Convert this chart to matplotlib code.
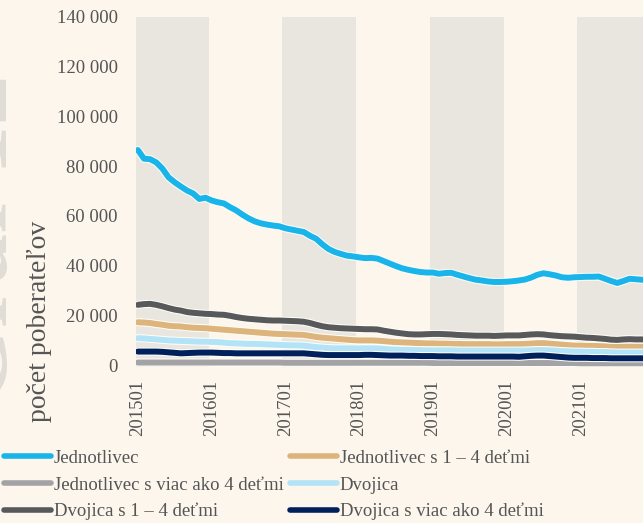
import numpy as np
import matplotlib.pyplot as plt
import matplotlib.patheffects as pe
from matplotlib.ticker import FuncFormatter

plt.rcParams['font.family'] = ['Liberation Serif', 'DejaVu Serif']

# monthly data, 201501 .. 202112
jednotlivec = [
    86500, 83000, 82800, 81500, 79000, 75500, 73500, 71800, 70200, 69000, 66800, 67300,
    66200, 65500, 65000, 63500, 62200, 60500, 59000, 57800, 57000, 56500, 56100, 55800,
    55000, 54500, 54000, 53500, 52000, 50800, 48600, 46700, 45500, 44700, 44000, 43700,
    43300, 43000, 43100, 42800, 41800, 40800, 39800, 38900, 38300, 37800, 37400, 37200,
    37200, 36700, 37000, 37100, 36300, 35600, 34900, 34300, 34000, 33600, 33400, 33400,
    33500, 33700, 34000, 34400, 35200, 36300, 36900, 36500, 36000, 35300, 35100, 35300,
    35400, 35500, 35500, 35600, 34700, 33800, 33000, 33800, 34700, 34500, 34300, 34300]
jedn_1_4 = [
    17200, 17100, 16900, 16500, 16200, 15800, 15600, 15500, 15200, 15000, 14900, 14800,
    14600, 14400, 14200, 14000, 13800, 13600, 13400, 13200, 13000, 12800, 12600, 12500,
    12400, 12300, 12200, 12100, 11700, 11300, 11000, 10800, 10600, 10400, 10200, 10000,
    9900, 9900, 9900, 9800, 9600, 9400, 9200, 9100, 9000, 8900, 8800, 8700,
    8700, 8600, 8600, 8500, 8500, 8400, 8400, 8400, 8400, 8400, 8300, 8300,
    8400, 8400, 8400, 8500, 8600, 8800, 8800, 8600, 8400, 8200, 8000, 7800,
    7800, 7700, 7700, 7600, 7500, 7400, 7300, 7400, 7400, 7400, 7400, 7400]
jedn_viac4 = [
    1000, 1000, 1000, 1000, 1000, 1000, 1000, 1000, 1000, 1000, 1000, 1000,
    1000, 1000, 1000, 1000, 1000, 1000, 1000, 1000, 1000, 1000, 1000, 1000,
    900, 900, 900, 900, 900, 900, 900, 900, 900, 900, 900, 900,
    900, 900, 900, 900, 900, 900, 900, 900, 900, 900, 900, 900,
    800, 800, 800, 800, 800, 800, 800, 800, 800, 800, 800, 800,
    800, 800, 800, 800, 800, 800, 800, 800, 800, 800, 800, 800,
    700, 700, 700, 700, 700, 700, 700, 700, 700, 700, 700, 700]
dvojica = [
    10800, 10700, 10500, 10300, 10100, 9900, 9800, 9700, 9600, 9500, 9400, 9400,
    9300, 9200, 9000, 8800, 8700, 8600, 8500, 8500, 8400, 8300, 8200, 8100,
    8000, 7900, 7900, 7800, 7500, 7200, 7000, 6800, 6700, 6700, 6700, 6700,
    6700, 6700, 6700, 6700, 6500, 6300, 6200, 6100, 6100, 6000, 6000, 5900,
    5900, 5900, 5900, 5900, 5800, 5800, 5800, 5800, 5800, 5800, 5800, 5800,
    5800, 5800, 5800, 5800, 5900, 6000, 6000, 5900, 5800, 5600, 5500, 5400,
    5400, 5300, 5300, 5200, 5200, 5100, 5000, 5000, 5000, 5000, 5000, 5000]
dvoj_1_4 = [
    24200, 24500, 24600, 24200, 23600, 22900, 22300, 21900, 21300, 21000, 20800, 20600,
    20500, 20300, 20200, 19800, 19300, 18900, 18600, 18400, 18200, 18000, 17900, 17900,
    17800, 17700, 17600, 17400, 16900, 16200, 15600, 15200, 15000, 14800, 14700, 14600,
    14500, 14400, 14400, 14300, 13800, 13400, 13000, 12700, 12400, 12300, 12300, 12400,
    12500, 12500, 12400, 12300, 12100, 12000, 11900, 11800, 11800, 11800, 11700, 11800,
    11900, 11900, 11900, 12100, 12300, 12400, 12300, 12000, 11800, 11600, 11500, 11400,
    11200, 11000, 10900, 10700, 10500, 10200, 10100, 10300, 10400, 10300, 10300, 10200]
dvoj_viac4 = [
    5400, 5400, 5400, 5400, 5300, 5100, 4900, 4700, 4800, 4900, 5000, 5000,
    5000, 4900, 4800, 4800, 4700, 4700, 4700, 4700, 4700, 4700, 4700, 4700,
    4700, 4700, 4700, 4700, 4500, 4300, 4100, 4000, 4000, 4000, 4000, 4000,
    4000, 4100, 4100, 4000, 3900, 3800, 3800, 3800, 3700, 3700, 3600, 3600,
    3600, 3500, 3500, 3500, 3400, 3400, 3400, 3400, 3400, 3400, 3400, 3400,
    3400, 3400, 3300, 3500, 3700, 3800, 3800, 3600, 3400, 3200, 3000, 2900,
    2900, 2900, 2800, 2800, 2800, 2700, 2700, 2700, 2700, 2700, 2700, 2700]

years = [2015, 2016, 2017, 2018, 2019, 2020, 2021]
tick_labels = [f"{y}01" for y in years]

series = [
    ("Jednotlivec", jednotlivec, '#19b5ea'),
    ("Jednotlivec s 1 – 4 deťmi", jedn_1_4, '#dcb47c'),
    ("Jednotlivec s viac ako 4 deťmi", jedn_viac4, '#a3a3a5'),
    ("Dvojica", dvojica, '#b2e3f6'),
    ("Dvojica s 1 – 4 deťmi", dvoj_1_4, '#58595b'),
    ("Dvojica s viac ako 4 deťmi", dvoj_viac4, '#00205c'),
]

bg = '#fcf6ec'
band = '#e9e5df'
txt = '#555555'

fig = plt.figure(figsize=(6.43, 5.23), dpi=100, facecolor=bg)
ax = fig.add_axes([136 / 643, 156 / 523, 555 / 643, 350 / 523])
ax.set_facecolor(bg)

for i in range(0, 8, 2):
    ax.axvspan(i * 12 - 0.5, i * 12 + 11.5, color=band, lw=0, zorder=0)

months = np.arange(len(jednotlivec))
handles = {}
for name, vals, col in series:
    ln, = ax.plot(months, vals, color=col, lw=4.3, solid_capstyle='round',
                  solid_joinstyle='round', zorder=3,
                  path_effects=[pe.Stroke(linewidth=5.8, foreground='#fffdf8'), pe.Normal()])
    handles[name] = ln

ax.set_xlim(-0.3, 90)
ax.set_ylim(-800, 140000)
ax.set_yticks(np.arange(0, 140001, 20000))
ax.yaxis.set_major_formatter(FuncFormatter(lambda v, p: f"{int(v):,}".replace(",", " ")))
ax.set_xticks([i * 12 for i in range(len(years))])
ax.set_xticklabels(tick_labels, rotation=90)
ax.tick_params(length=0, labelsize=13.5, colors=txt)
ax.tick_params(axis='y', pad=13)
ax.tick_params(axis='x', pad=9)
for s in ax.spines.values():
    s.set_visible(False)

fig.text(40 / 643, 1 - 321 / 523, "počet poberateľov", rotation=90, ha='center', va='center',
         fontsize=20, color=txt)
fig.text(-17 / 643, 1 - 240 / 523, "Graf 12", rotation=90, ha='center', va='center',
         fontsize=72, color='#e0dcd6', fontweight='bold', zorder=0)

order = ["Jednotlivec", "Jednotlivec s viac ako 4 deťmi", "Dvojica s 1 – 4 deťmi",
         "Jednotlivec s 1 – 4 deťmi", "Dvojica", "Dvojica s viac ako 4 deťmi"]
leg_handles = [plt.Line2D([], [], color=handles[n].get_color(), lw=4, solid_capstyle='round')
               for n in order]
leg = fig.legend(leg_handles, order, loc='upper left', bbox_to_anchor=(2 / 643, 1 - 448 / 523),
                 ncol=2, frameon=False, fontsize=13.5, handlelength=2.5, handletextpad=0.15,
                 columnspacing=0.35, labelspacing=0.5, borderaxespad=0, borderpad=0.1)
for t in leg.get_texts():
    t.set_color(txt)

fig.savefig('out.png', dpi=100, facecolor=bg)
